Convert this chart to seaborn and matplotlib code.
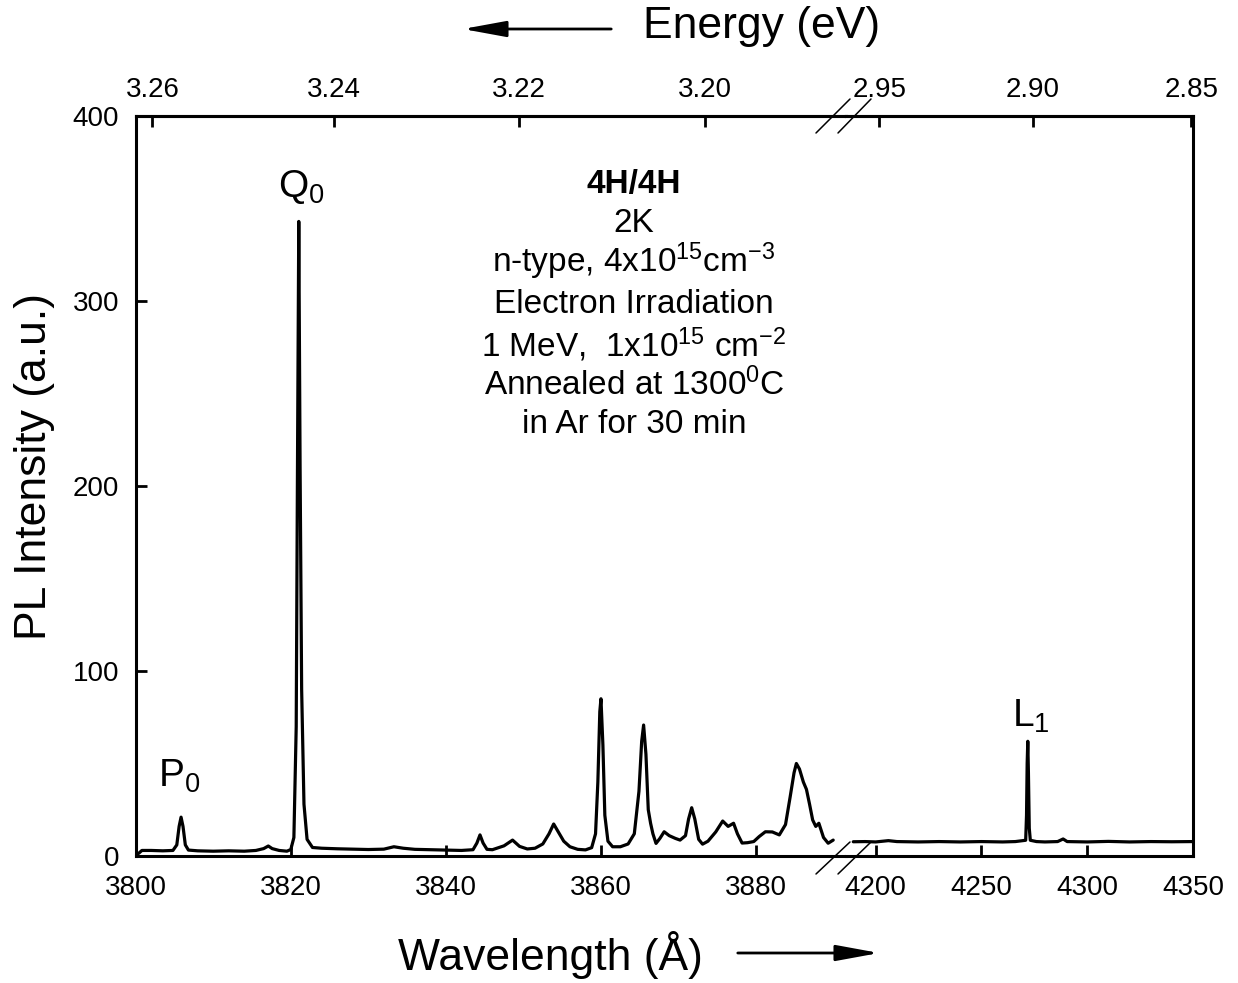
import numpy as np
import pandas as pd
import matplotlib
matplotlib.use("Agg")
import matplotlib.pyplot as plt
from matplotlib.patches import FancyArrowPatch
from matplotlib.ticker import NullLocator
import seaborn as sns

# ---------------- data ----------------
wl_left = [3800.0, 3800.4, 3800.8, 3802.0, 3803.5, 3804.8, 3805.3, 3805.6, 3805.85, 3806.1,
           3806.4, 3806.8, 3808.0, 3810.0, 3812.0, 3814.0, 3815.5, 3816.5, 3817.1, 3817.6,
           3818.5, 3819.5, 3820.0, 3820.4, 3820.7, 3820.85, 3821.03, 3821.2, 3821.4, 3821.7,
           3822.1, 3822.8, 3824.0, 3826.0, 3828.0, 3830.0, 3832.0, 3833.3, 3834.5, 3836.0,
           3838.0, 3840.0, 3842.0, 3843.5, 3844.0, 3844.4, 3844.8, 3845.3, 3846.0, 3847.5,
           3848.6, 3849.5, 3850.5, 3851.5, 3852.5, 3853.3, 3853.9, 3854.5, 3855.2, 3856.0,
           3857.0, 3858.0, 3858.8, 3859.3, 3859.6, 3859.85, 3860.0, 3860.25, 3860.5, 3860.9,
           3861.5, 3862.5, 3863.5, 3864.3, 3864.9, 3865.25, 3865.5, 3865.8, 3866.1, 3866.4,
           3866.7, 3867.1, 3867.6, 3868.15, 3868.8, 3869.6, 3870.2, 3870.9, 3871.3, 3871.7,
           3872.1, 3872.6, 3873.1, 3873.8, 3874.8, 3875.7, 3876.4, 3877.1, 3877.6, 3878.2,
           3878.9, 3879.7, 3880.4, 3881.2, 3882.1, 3883.0, 3883.8, 3884.4, 3884.9, 3885.2,
           3885.6, 3886.1, 3886.5, 3886.9, 3887.3, 3887.7, 3888.1, 3888.7, 3889.3, 3889.95]
pl_left = [0.5, 1.5, 3.0, 3.0, 2.8, 3.0, 6.0, 16.0, 21.0, 16.0,
           6.0, 3.2, 2.8, 2.6, 2.8, 2.6, 3.0, 4.0, 5.4, 4.0,
           3.0, 2.6, 3.5, 10.0, 70.0, 200.0, 343.0, 210.0, 90.0, 28.0,
           9.0, 4.6, 4.2, 3.9, 3.7, 3.5, 3.7, 5.0, 4.2, 3.6,
           3.4, 3.2, 3.0, 3.4, 7.0, 11.4, 7.0, 3.6, 3.4, 5.5,
           8.6, 5.2, 3.8, 4.2, 6.5, 12.0, 17.3, 13.0, 8.0, 5.0,
           3.6, 3.3, 4.5, 12.0, 40.0, 78.0, 85.0, 60.0, 22.0, 8.0,
           5.0, 5.0, 6.5, 12.0, 35.0, 62.0, 70.8, 55.0, 25.0, 17.7,
           12.0, 6.8, 9.5, 13.1, 11.0, 9.5, 8.6, 11.0, 20.0, 26.1,
           20.0, 9.0, 6.4, 8.0, 13.0, 18.9, 16.0, 17.7, 12.0, 7.0,
           7.2, 7.8, 10.5, 13.1, 13.0, 11.4, 17.0, 32.0, 45.0, 50.0,
           47.0, 40.0, 36.0, 28.0, 19.5, 16.0, 17.7, 10.0, 6.9, 8.6]

wl_right = [4189.4, 4195.0, 4200.0, 4206.0, 4210.0, 4220.0, 4230.0, 4240.0, 4250.0, 4260.0,
            4266.0, 4270.9, 4271.3, 4271.6, 4271.9, 4272.2, 4272.6, 4273.1, 4276.0, 4280.0,
            4286.0, 4288.6, 4290.5, 4300.0, 4310.0, 4320.0, 4330.0, 4340.0, 4350.0]
pl_right = [7.7, 7.8, 7.6, 8.3, 7.8, 7.6, 7.8, 7.6, 7.8, 7.6,
            7.8, 8.5, 22.0, 50.0, 62.0, 45.0, 15.0, 8.5, 7.8, 7.6,
            7.8, 9.2, 7.8, 7.6, 7.9, 7.6, 7.8, 7.7, 7.8]

xticks_left = [3800, 3820, 3840, 3860, 3880]
xticks_right = [4200, 4250, 4300, 4350]
yticks = [0, 100, 200, 300, 400]
eticks_left = [3.26, 3.24, 3.22, 3.20]
eticks_right = [2.95, 2.90, 2.85]
HC = 12395.0  # eV * Angstrom (conversion used by the top axis)

info_lines = ["4H/4H", "2K", "n-type, 4x10$^{15}$cm$^{-3}$", "Electron Irradiation",
              "1 MeV,  1x10$^{15}$ cm$^{-2}$", "Annealed at 1300$^{0}$C", "in Ar for 30 min"]

# ---------------- style ----------------
sns.set_style("ticks")
plt.rcParams["font.family"] = ["Liberation Sans", "DejaVu Sans"]
plt.rcParams["mathtext.fontset"] = "custom"
plt.rcParams["mathtext.rm"] = "Liberation Sans"
plt.rcParams["mathtext.it"] = "Liberation Sans:italic"
plt.rcParams["mathtext.bf"] = "Liberation Sans:bold"
plt.rcParams["mathtext.default"] = "regular"
for key in ("text.color", "axes.labelcolor", "xtick.color", "ytick.color",
            "axes.edgecolor", "xtick.labelcolor", "ytick.labelcolor"):
    plt.rcParams[key] = "black"

W, H = 1238, 983
fig = plt.figure(figsize=(W / 100, H / 100), dpi=100)
fig.patch.set_facecolor("white")


def fx(x):
    return x / W


def fy(y):
    return 1 - y / H


x0, xb, x1 = 135.7, 846.0, 1193.0
ytop, ybot = 116.0, 856.0
axL = fig.add_axes([fx(x0), fy(ybot), fx(xb) - fx(x0), fy(ytop) - fy(ybot)])
axR = fig.add_axes([fx(xb), fy(ybot), fx(x1) - fx(xb), fy(ytop) - fy(ybot)])

dfL = pd.DataFrame({"wl": wl_left, "pl": pl_left})
dfR = pd.DataFrame({"wl": wl_right, "pl": pl_right})
sns.lineplot(data=dfL, x="wl", y="pl", ax=axL, color="black", lw=2.3,
             estimator=None, sort=False)
sns.lineplot(data=dfR, x="wl", y="pl", ax=axR, color="black", lw=2.3,
             estimator=None, sort=False)

axL.set_xlim(3800, 3891.6)
axR.set_xlim(4185.96, 4350)
SW = 2.2
for ax in (axL, axR):
    ax.set_ylim(0, 400)
    ax.set_xlabel("")
    ax.set_ylabel("")
    ax.set_facecolor("white")
    for s in ax.spines.values():
        s.set_linewidth(SW)
        s.set_color("black")
    ax.xaxis.set_minor_locator(NullLocator())
    ax.yaxis.set_minor_locator(NullLocator())

axL.spines["right"].set_visible(False)
axR.spines["left"].set_visible(False)

axL.set_xticks(xticks_left)
axL.set_xticklabels([str(v) for v in xticks_left])
axR.set_xticks(xticks_right)
axR.set_xticklabels([str(v) for v in xticks_right])
axL.set_yticks(yticks)
axL.set_yticklabels([str(v) for v in yticks])

axL.tick_params(axis="x", direction="in", length=8, width=2, labelsize=20, pad=14,
                top=False, bottom=True, colors="black")
axR.tick_params(axis="x", direction="in", length=8, width=2, labelsize=20, pad=14,
                top=False, bottom=True, colors="black")
axL.tick_params(axis="y", direction="in", length=8, width=2, labelsize=20, pad=12,
                left=True, right=False, colors="black")
axR.tick_params(axis="y", left=False, right=False, labelleft=False, labelright=False)


def to_e(w):
    w = np.asarray(w, dtype=float)
    with np.errstate(divide="ignore", invalid="ignore"):
        return HC / w


for ax, et in ((axL, eticks_left), (axR, eticks_right)):
    sec = ax.secondary_xaxis("top", functions=(to_e, to_e))
    sec.set_xticks(et)
    sec.set_xticklabels([f"{v:.2f}" for v in et])
    sec.xaxis.set_minor_locator(NullLocator())
    sec.tick_params(axis="x", direction="in", length=8, width=2, labelsize=20, pad=9,
                    colors="black")
    sec.spines["top"].set_linewidth(SW)
    sec.spines["top"].set_color("black")

# axis break marks
wR, hR = x1 - xb, ybot - ytop


def ax_pt(px, py):
    return ((px - xb) / wR, (ybot - py) / hR)


for (pa, pb) in (((816.0, 874.0), (850.0, 842.0)), ((838.0, 874.0), (871.0, 842.0)),
                 ((816.0, 133.0), (850.0, 99.0)), ((838.0, 133.0), (871.0, 99.0))):
    a = ax_pt(*pa)
    b = ax_pt(*pb)
    axR.plot([a[0], b[0]], [a[1], b[1]], transform=axR.transAxes, color="black",
             lw=1.1, clip_on=False)

# axis titles
fig.text(fx(762), fy(38), "Energy (eV)", fontsize=32, ha="center", va="baseline",
         color="black")
fig.text(fx(550), fy(970), "Wavelength (Å)", fontsize=32, ha="center", va="baseline",
         color="black")
fig.text(fx(35), fy(467), "PL Intensity (a.u.)", fontsize=32, rotation=90,
         ha="center", va="center", color="black")

arrow_kw = dict(arrowstyle="-|>,head_length=1.2,head_width=0.22", mutation_scale=22,
                lw=2.0, color="black", transform=fig.transFigure)
fig.add_artist(FancyArrowPatch((fx(614), fy(29)), (fx(460), fy(29)), **arrow_kw))
fig.add_artist(FancyArrowPatch((fx(735), fy(953)), (fx(882), fy(953)), **arrow_kw))

# peak labels
fig.text(fx(278), fy(197), "Q$_0$", fontsize=28, ha="left", va="baseline", color="black")
fig.text(fx(158), fy(787), "P$_0$", fontsize=28, ha="left", va="baseline", color="black")
fig.text(fx(1012), fy(727), "L$_1$", fontsize=28, ha="left", va="baseline", color="black")

# sample information block
baselines = [193, 232, 272, 313, 357, 395, 433]
for i, (txt, yb) in enumerate(zip(info_lines, baselines)):
    fig.text(fx(634), fy(yb), txt, fontsize=24, ha="center", va="baseline",
             fontweight="bold" if i == 0 else "normal", color="black")

fig.savefig("out.png", dpi=100, facecolor="white")
